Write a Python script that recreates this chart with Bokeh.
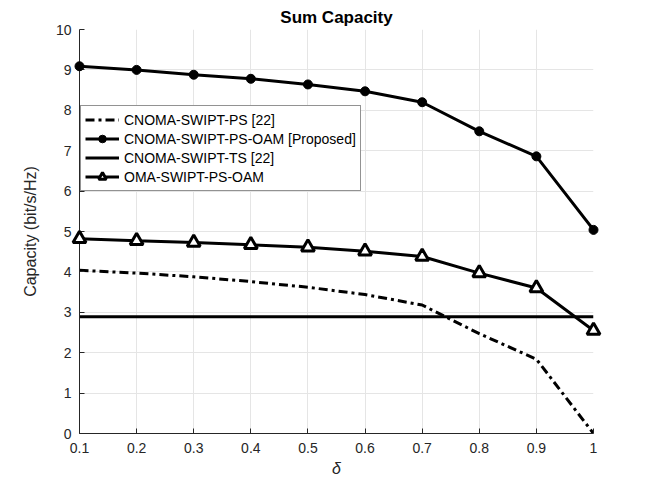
from bokeh.plotting import figure
from bokeh.models import FixedTicker, Legend, LegendItem, Range1d
from bokeh.embed import file_html
from bokeh.resources import INLINE

# ---- data ----
delta = [0.1, 0.2, 0.3, 0.4, 0.5, 0.6, 0.7, 0.8, 0.9, 1.0]
cnoma_ps = [4.04, 3.97, 3.88, 3.76, 3.62, 3.44, 3.18, 2.47, 1.84, 0.0]
cnoma_ps_oam = [9.09, 9.00, 8.88, 8.78, 8.64, 8.47, 8.20, 7.48, 6.86, 5.04]
cnoma_ts = [2.89] * 10
oma_ps_oam = [4.82, 4.77, 4.73, 4.67, 4.61, 4.51, 4.38, 3.97, 3.60, 2.55]

x_ticks = [0.1, 0.2, 0.3, 0.4, 0.5, 0.6, 0.7, 0.8, 0.9, 1.0]
x_tick_labels = ["0.1", "0.2", "0.3", "0.4", "0.5", "0.6", "0.7", "0.8", "0.9", "1"]
y_ticks = [0, 1, 2, 3, 4, 5, 6, 7, 8, 9, 10]

series_names = ["CNOMA-SWIPT-PS [22]", "CNOMA-SWIPT-PS-OAM [Proposed]",
                "CNOMA-SWIPT-TS [22]", "OMA-SWIPT-PS-OAM"]

FONT = "Liberation Sans"
AX = "#262626"

p = figure(width=648, height=482, output_backend="svg", toolbar_location=None,
           x_range=Range1d(0.1, 1.0), y_range=Range1d(0, 10),
           min_border_left=79, min_border_right=55, min_border_top=29,
           min_border_bottom=49)
p.outline_line_color = None
p.background_fill_color = "white"
p.border_fill_color = "white"

p.title.text = "Sum Capacity"
p.title.text_font = FONT
p.title.text_font_size = "17px"
p.title.text_font_style = "bold"
p.title.align = "center"
p.title.text_color = "black"
p.title.standoff = 5

for ax in (p.xaxis[0], p.yaxis[0]):
    ax.axis_line_color = AX
    ax.major_tick_line_color = AX
    ax.major_tick_in = 5
    ax.major_tick_out = 0
    ax.minor_tick_line_color = None
    ax.major_label_text_font = FONT
    ax.major_label_text_font_size = "14px"
    ax.major_label_text_color = AX
    ax.axis_label_text_font = FONT
    ax.axis_label_text_color = AX
    ax.axis_label_text_font_size = "16px"

p.xaxis.ticker = FixedTicker(ticks=x_ticks)
p.xaxis.major_label_overrides = dict(zip(x_ticks, x_tick_labels))
p.xaxis.major_label_standoff = 9
p.xaxis.axis_label = "δ"
p.xaxis.axis_label_text_font_style = "italic"
p.xaxis.axis_label_standoff = 4

p.yaxis.ticker = FixedTicker(ticks=y_ticks)
p.yaxis.major_label_standoff = 8
p.yaxis.axis_label = "Capacity (bit/s/Hz)"
p.yaxis.axis_label_text_font_style = "normal"
p.yaxis.axis_label_standoff = 14

p.xgrid.grid_line_color = "#e5e5e5"
p.ygrid.grid_line_color = "#e5e5e5"
p.xgrid.ticker = FixedTicker(ticks=x_ticks)
p.ygrid.ticker = FixedTicker(ticks=y_ticks)

LW = 3
r_ps = p.line(delta, cnoma_ps, line_color="black", line_width=LW, line_dash="9 4 3 4")
r_oam = p.line(delta, cnoma_ps_oam, line_color="black", line_width=LW)
m_oam = p.scatter(delta, cnoma_ps_oam, marker="circle", size=9, fill_color="black",
                  line_color="black", line_width=1)
r_ts = p.line(delta, cnoma_ts, line_color="black", line_width=LW)
r_oma = p.line(delta, oma_ps_oam, line_color="black", line_width=LW)
m_oma = p.scatter(delta, oma_ps_oam, marker="triangle", size=13, fill_color="white",
                  line_color="black", line_width=3)

for r in (m_oam, m_oma):
    r.level = "overlay"

legend = Legend(items=[
    LegendItem(label=series_names[0], renderers=[r_ps]),
    LegendItem(label=series_names[1], renderers=[r_oam, m_oam]),
    LegendItem(label=series_names[2], renderers=[r_ts]),
    LegendItem(label=series_names[3], renderers=[r_oma, m_oma]),
], location=(1, 242))
legend.label_text_font = FONT
legend.label_text_font_size = "14px"
legend.label_text_color = "black"
legend.border_line_color = AX
legend.border_line_width = 1
legend.background_fill_alpha = 1
legend.padding = 4
legend.margin = 0
legend.spacing = 0
legend.glyph_width = 34
legend.glyph_height = 19
legend.label_height = 19
legend.label_standoff = 5
p.add_layout(legend, "center")

open("out.html", "w").write(file_html(p, INLINE))
